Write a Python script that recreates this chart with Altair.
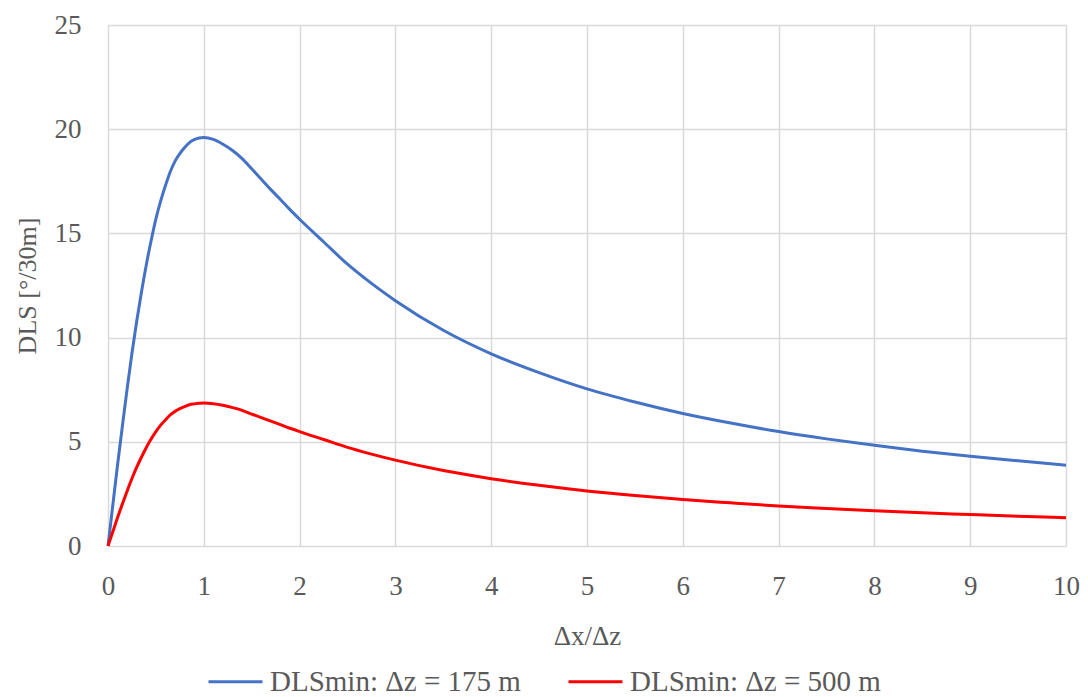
import altair as alt
import pandas as pd

ratio = [0, 0.05, 0.1, 0.15, 0.2, 0.25, 0.3, 0.35, 0.4, 0.45, 0.5, 0.55, 0.6, 0.65, 0.7, 0.75,
         0.8, 0.85, 0.9, 0.95, 1.0, 1.1, 1.2, 1.3, 1.4, 1.5, 1.6, 1.7, 1.8, 1.9, 2.0,
         2.25, 2.5, 2.75, 3.0, 3.5, 4.0, 4.5, 5.0, 5.5, 6.0, 6.5, 7.0, 7.5, 8.0, 8.5, 9.0, 9.5, 10.0]
dls_175 = [0, 1.95, 3.9, 5.75, 7.55, 9.25, 10.8, 12.2, 13.5, 14.65, 15.7, 16.56, 17.3, 17.96, 18.47, 18.83,
           19.12, 19.36, 19.5, 19.58, 19.6, 19.51, 19.28, 18.98, 18.59, 18.1, 17.6, 17.1, 16.63, 16.14, 15.68,
           14.6, 13.52, 12.6, 11.77, 10.35, 9.22, 8.32, 7.54, 6.91, 6.36, 5.9, 5.49, 5.14, 4.83, 4.55, 4.31, 4.09, 3.88]
dls_500 = [0, 0.68, 1.37, 2.01, 2.64, 3.24, 3.78, 4.27, 4.73, 5.13, 5.49, 5.8, 6.05, 6.29, 6.46, 6.59,
           6.69, 6.78, 6.82, 6.85, 6.86, 6.83, 6.75, 6.64, 6.51, 6.33, 6.16, 5.99, 5.82, 5.65, 5.49,
           5.11, 4.73, 4.41, 4.12, 3.62, 3.23, 2.91, 2.64, 2.42, 2.23, 2.07, 1.92, 1.8, 1.69, 1.59, 1.51, 1.43, 1.36]
series_names = ["DLSmin: \u0394z = 175 m", "DLSmin: \u0394z = 500 m"]
series_colors = ["#4472C4", "#FF0000"]

rows = []
for name, vals in zip(series_names, [dls_175, dls_500]):
    for x, y in zip(ratio, vals):
        rows.append({"x": x, "y": y, "series": name})
df = pd.DataFrame(rows)

FONT = "Liberation Serif"
GRAY = "#595959"

chart = alt.Chart(df).mark_line(strokeWidth=3, interpolate="monotone").encode(
    x=alt.X("x:Q", title="\u0394x/\u0394z",
            scale=alt.Scale(domain=[0, 10], nice=False),
            axis=alt.Axis(values=list(range(0, 11)), tickSize=0, domain=False,
                          labelFlush=False,
                          labelPadding=27, titlePadding=24, labelFontSize=27,
                          titleFontSize=27, titleFontWeight="normal")),
    y=alt.Y("y:Q", title="DLS [\u00b0/30m]",
            scale=alt.Scale(domain=[0, 25], nice=False),
            axis=alt.Axis(values=[0, 5, 10, 15, 20, 25], tickSize=0, domain=False,
                          labelFlush=False,
                          labelPadding=27, titlePadding=14, labelFontSize=27,
                          titleFontSize=26, titleFontWeight="normal")),
    color=alt.Color("series:N",
                    scale=alt.Scale(domain=series_names, range=series_colors),
                    legend=alt.Legend(title=None, orient="none", direction="horizontal",
                                      legendX=99, legendY=628,
                                      symbolType="stroke", symbolSize=2916,
                                      symbolStrokeWidth=3, labelOffset=6,
                                      columnPadding=41, labelFontSize=29,
                                      labelLimit=0,
                                      labelFont=FONT, labelColor=GRAY)),
).properties(
    width=958, height=521,
    autosize=alt.AutoSizeParams(type="none"),
    padding={"left": 100, "top": 17, "right": 14, "bottom": 170},
).configure_view(strokeWidth=0).configure_axis(
    gridColor="#d9d9d9", gridWidth=1.5, labelColor=GRAY, titleColor=GRAY,
    labelFont=FONT, titleFont=FONT,
)

chart.save("out.html", embed_options={"renderer": "svg", "actions": False})
